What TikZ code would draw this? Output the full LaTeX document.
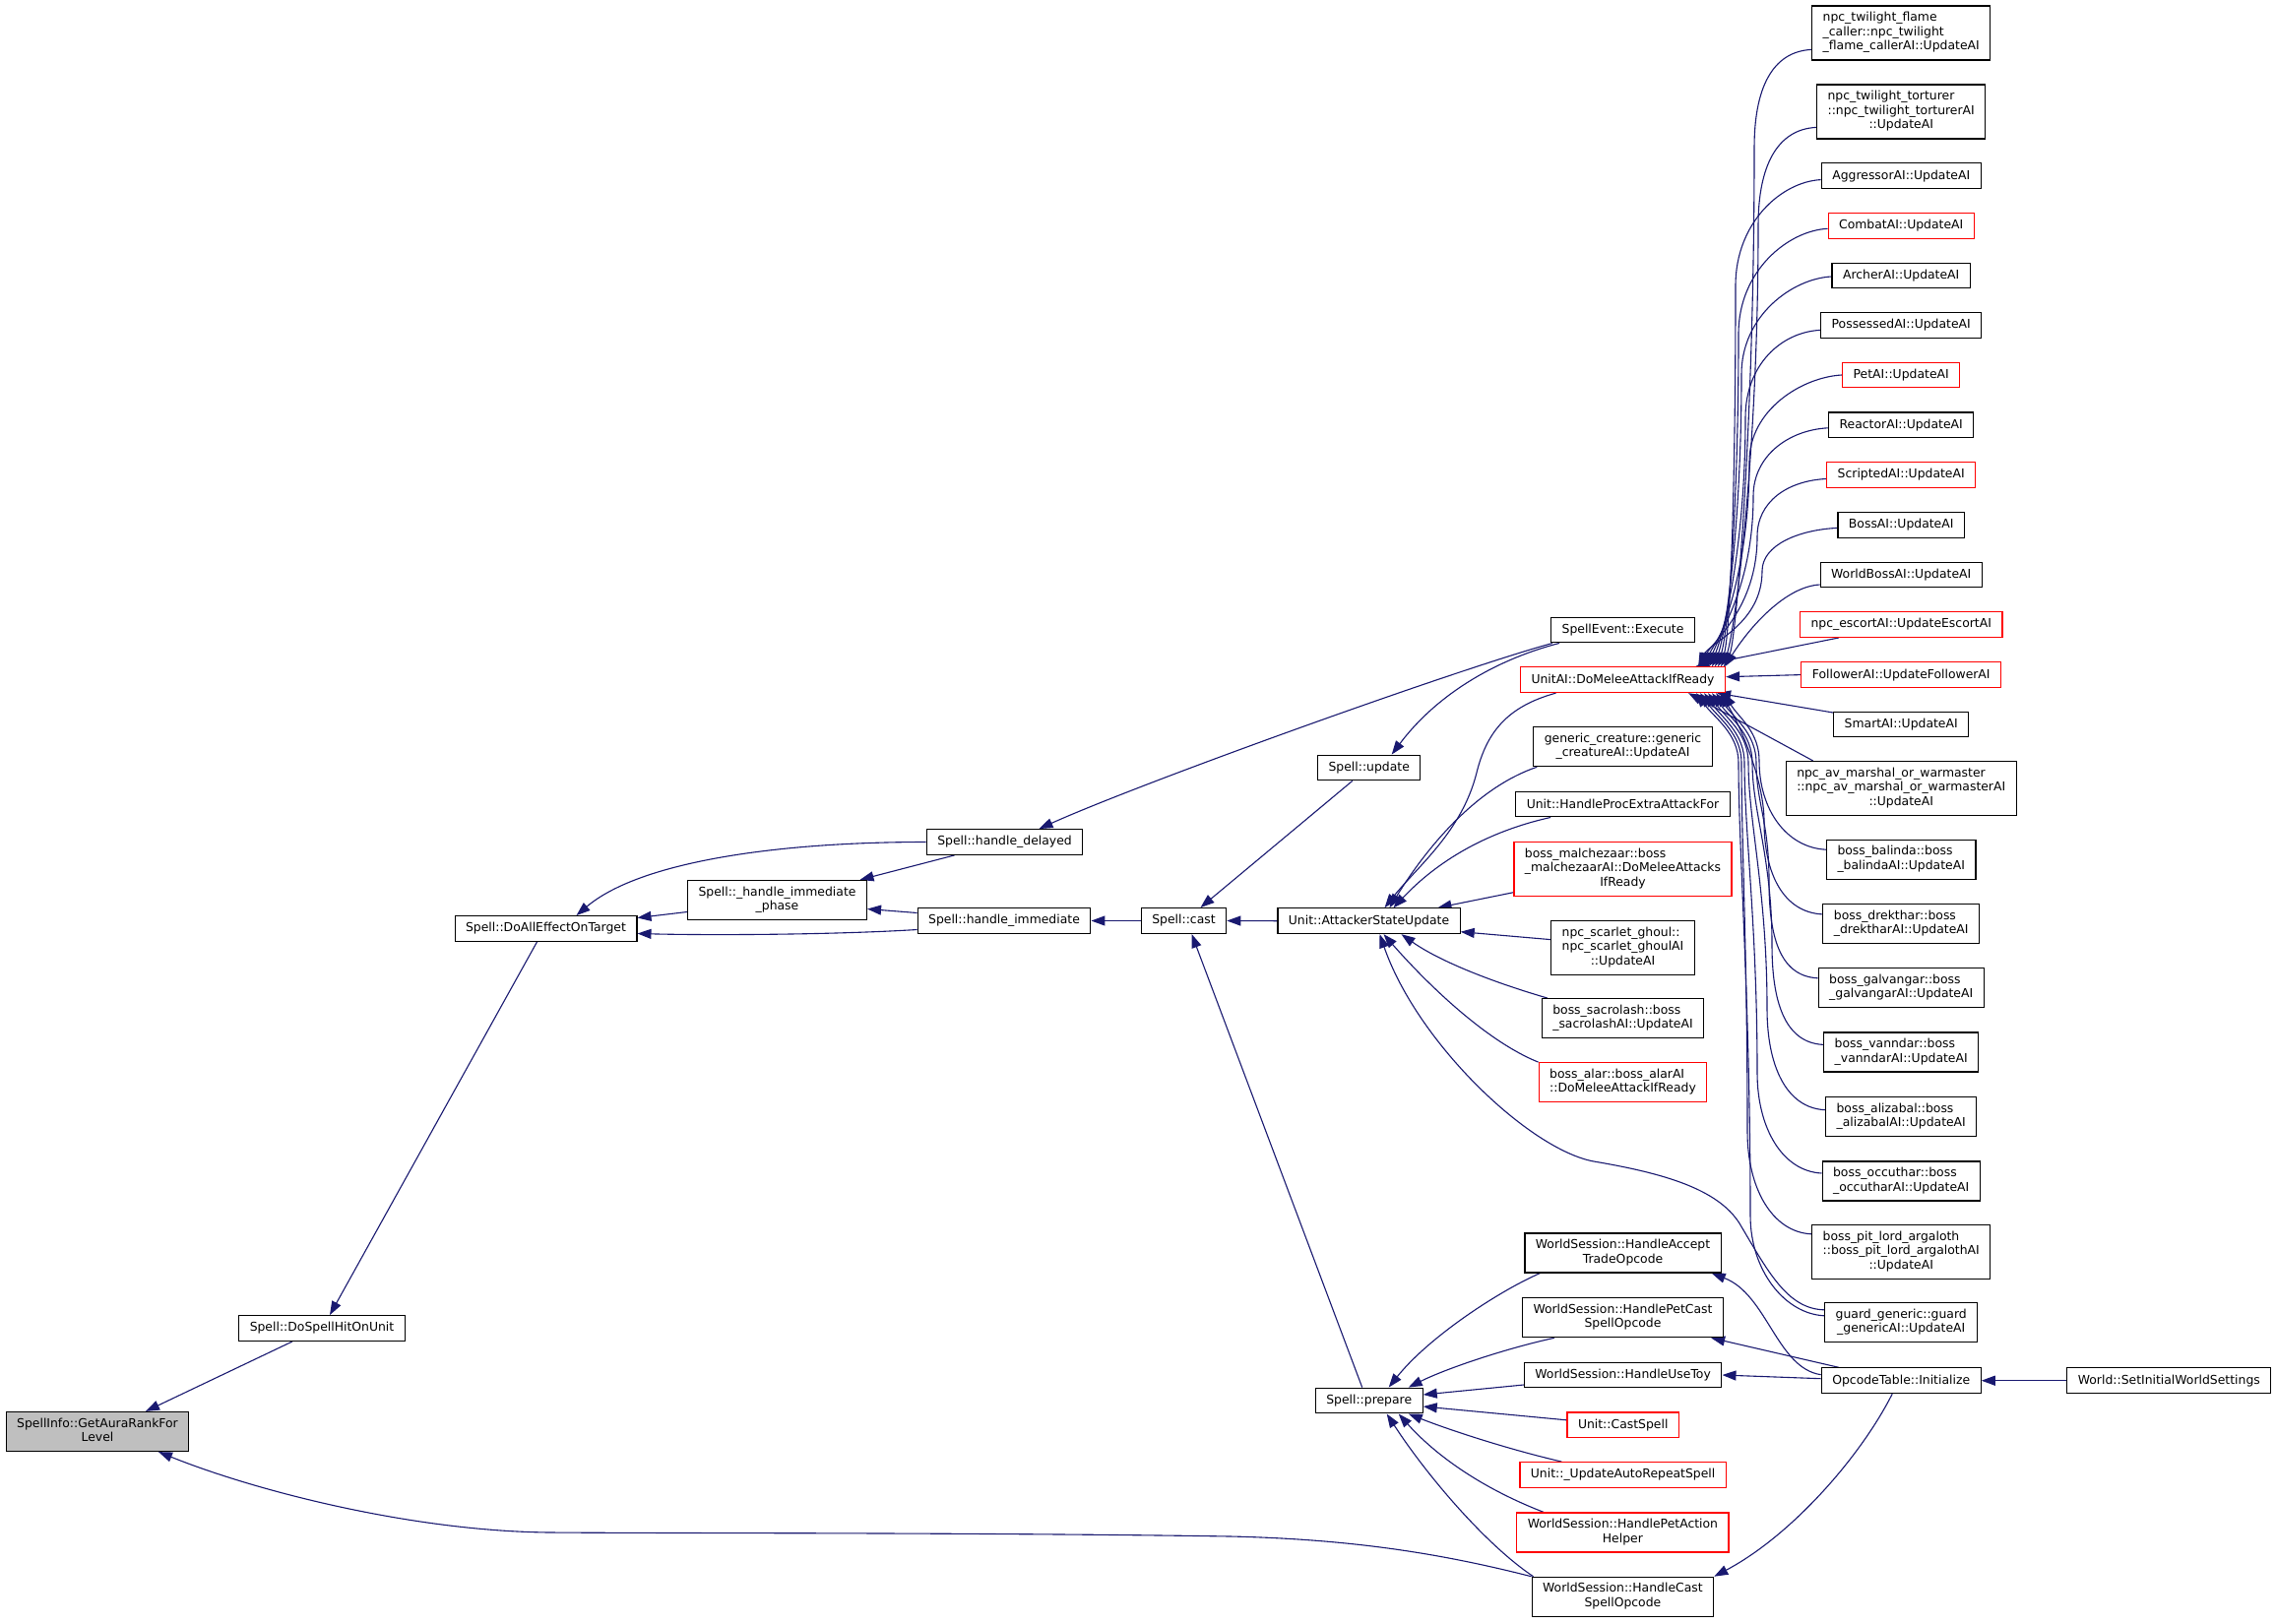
\documentclass[tikz,border=0pt]{standalone}
\usepackage{fontspec}
\setmainfont{DejaVu Sans}
\usetikzlibrary{arrows.meta,calc,backgrounds}
\definecolor{edgec}{HTML}{191970}
\definecolor{redc}{HTML}{FF0000}
\definecolor{grayf}{HTML}{BFBFBF}
\newcommand\dxlab[1]{\begin{tabular}{@{}l@{}}#1\end{tabular}}
\newcommand\dxlast[1]{\multicolumn{1}{@{}c@{}}{#1}}
\tikzset{
  nbox/.style={draw=black, line width=1.2pt, fill=white, font=\fontsize{12.4pt}{14.5pt}\selectfont, align=center, inner xsep=11pt, inner ysep=2pt, minimum height=25.7pt},
  rbox/.style={nbox, draw=redc},
  h2/.style={minimum height=40pt},
  h3/.style={minimum height=55pt},
  cedge/.style={draw=edgec, line width=1.1pt, -{Triangle[length=14pt,width=10pt]}},
}
\begin{document}
\begin{tikzpicture}[x=1pt,y=-1pt]
\useasboundingbox (0,0) rectangle (2312,1649);
% ---------- nodes ----------
\node[nbox,h2,fill=grayf] (gar) at (99,1454.5) {\dxlab{SpellInfo::GetAuraRankFor\\\dxlast{Level}}};
\node[nbox] (dsh) at (327,1349.5) {Spell::DoSpellHitOnUnit};
\node[nbox] (dae) at (554.5,943.5) {Spell::DoAllEffectOnTarget};
\node[nbox,h2] (hip) at (789.5,914.5) {\dxlab{Spell::\_handle\_immediate\\\dxlast{\_phase}}};
\node[nbox] (hd) at (1020.5,855.5) {Spell::handle\_delayed};
\node[nbox] (hi) at (1020,935.5) {Spell::handle\_immediate};
\node[nbox] (cast) at (1202.5,935.5) {Spell::cast};
\node[nbox] (upd) at (1390.7,780) {Spell::update};
\node[nbox] (asu) at (1390.5,935.7) {Unit::AttackerStateUpdate};
\node[nbox] (prep) at (1390.7,1423) {Spell::prepare};
\node[nbox] (se) at (1648.5,640) {SpellEvent::Execute};
\node[rbox] (uai) at (1648.5,690.7) {UnitAI::DoMeleeAttackIfReady};
\node[nbox,h2] (gc) at (1648.5,758.7) {\dxlab{generic\_creature::generic\\\dxlast{\_creatureAI::UpdateAI}}};
\node[nbox] (hpe) at (1648.5,817) {Unit::HandleProcExtraAttackFor};
\node[rbox,h3] (bm) at (1648.5,882.6) {\dxlab{boss\_malchezaar::boss\\\_malchezaarAI::DoMeleeAttacks\\\dxlast{IfReady}}};
\node[nbox,h3] (nsg) at (1648.5,962.6) {\dxlab{npc\_scarlet\_ghoul::\\npc\_scarlet\_ghoulAI\\\dxlast{::UpdateAI}}};
\node[nbox,h2] (bs) at (1648.5,1034.6) {\dxlab{boss\_sacrolash::boss\\\dxlast{\_sacrolashAI::UpdateAI}}};
\node[rbox,h2] (ba) at (1648.5,1099.7) {\dxlab{boss\_alar::boss\_alarAI\\\dxlast{::DoMeleeAttackIfReady}}};
\node[nbox,h2] (hat) at (1648.5,1273) {\dxlab{WorldSession::HandleAccept\\\dxlast{TradeOpcode}}};
\node[nbox,h2] (hpc) at (1648.5,1338.7) {\dxlab{WorldSession::HandlePetCast\\\dxlast{SpellOpcode}}};
\node[nbox] (hut) at (1648.6,1397) {WorldSession::HandleUseToy};
\node[rbox] (ucs) at (1648.7,1447.8) {Unit::CastSpell};
\node[rbox] (uar) at (1648.6,1498.5) {Unit::\_UpdateAutoRepeatSpell};
\node[rbox,h2] (hpa) at (1648.4,1557) {\dxlab{WorldSession::HandlePetAction\\\dxlast{Helper}}};
\node[nbox,h2] (hcso) at (1648.4,1622.3) {\dxlab{WorldSession::HandleCast\\\dxlast{SpellOpcode}}};
% right column
\node[nbox,h3] (flame) at (1931.2,33.4) {\dxlab{npc\_twilight\_flame\\\_caller::npc\_twilight\\\dxlast{\_flame\_callerAI::UpdateAI}}};
\node[nbox,h3] (tort) at (1931.2,113.4) {\dxlab{npc\_twilight\_torturer\\::npc\_twilight\_torturerAI\\\dxlast{::UpdateAI}}};
\node[nbox] (aggr) at (1931.2,178.6) {AggressorAI::UpdateAI};
\node[rbox] (comb) at (1931.2,229.3) {CombatAI::UpdateAI};
\node[nbox] (arch) at (1931.2,280) {ArcherAI::UpdateAI};
\node[nbox] (poss) at (1931.2,330.4) {PossessedAI::UpdateAI};
\node[rbox] (petai) at (1931.2,381) {PetAI::UpdateAI};
\node[nbox] (react) at (1931.2,431.8) {ReactorAI::UpdateAI};
\node[rbox] (scrip) at (1931.2,482.5) {ScriptedAI::UpdateAI};
\node[nbox] (bossai) at (1931.2,533.4) {BossAI::UpdateAI};
\node[nbox] (wboss) at (1931.2,584) {WorldBossAI::UpdateAI};
\node[rbox] (esc) at (1931.2,634.5) {npc\_escortAI::UpdateEscortAI};
\node[rbox] (foll) at (1931.2,685.6) {FollowerAI::UpdateFollowerAI};
\node[nbox] (smart) at (1931.2,736) {SmartAI::UpdateAI};
\node[nbox,h3] (nav) at (1931.2,801) {\dxlab{npc\_av\_marshal\_or\_warmaster\\::npc\_av\_marshal\_or\_warmasterAI\\\dxlast{::UpdateAI}}};
\node[nbox,h2] (bal) at (1931.2,873.2) {\dxlab{boss\_balinda::boss\\\dxlast{\_balindaAI::UpdateAI}}};
\node[nbox,h2] (drek) at (1931.2,938.4) {\dxlab{boss\_drekthar::boss\\\dxlast{\_drektharAI::UpdateAI}}};
\node[nbox,h2] (galv) at (1931.2,1003.8) {\dxlab{boss\_galvangar::boss\\\dxlast{\_galvangarAI::UpdateAI}}};
\node[nbox,h2] (vann) at (1931.2,1068.9) {\dxlab{boss\_vanndar::boss\\\dxlast{\_vanndarAI::UpdateAI}}};
\node[nbox,h2] (aliz) at (1931.2,1134.7) {\dxlab{boss\_alizabal::boss\\\dxlast{\_alizabalAI::UpdateAI}}};
\node[nbox,h2] (occu) at (1931.2,1200) {\dxlab{boss\_occuthar::boss\\\dxlast{\_occutharAI::UpdateAI}}};
\node[nbox,h3] (pit) at (1931.2,1271.8) {\dxlab{boss\_pit\_lord\_argaloth\\::boss\_pit\_lord\_argalothAI\\\dxlast{::UpdateAI}}};
\node[nbox,h2] (guard) at (1931.2,1343.8) {\dxlab{guard\_generic::guard\\\dxlast{\_genericAI::UpdateAI}}};
\node[nbox] (oti) at (1931.2,1402.7) {OpcodeTable::Initialize};
\node[nbox] (wsi) at (2203.3,1402.7) {World::SetInitialWorldSettings};
% ---------- edges ----------
\begin{scope}[on background layer]
\fill[white] (0,0) rectangle (2312,1649);
% left part
\draw[cedge] ($(dsh.south)+(-30,0)$) -- ($(gar.north)+(49,0)$);
\draw[cedge] (hcso.north west) .. controls (1470,1580) and (1380,1564) .. (1250,1561) .. controls (1000,1557) and (700,1558) .. (560,1557) .. controls (420,1556) and (260,1515) .. ($(gar.south)+(62,0)$);
\draw[cedge] ($(dae.south)+(-9,0)$) -- ($(dsh.north)+(8,0)$);
\draw[cedge] ($(hip.west)+(0,12)$) -- ($(dae.east)+(0,-11)$);
\draw[cedge] (hd.west) .. controls +(-150,0) and +(65,-55) .. ($(dae.north)+(31,0)$);
\draw[cedge] ($(hi.west)+(0,9)$) .. controls +(-80,5) and +(80,2) .. ($(dae.east)+(0,5)$);
\draw[cedge] ($(hd.south)+(-51,0)$) -- ($(hip.north)+(84,0)$);
\draw[cedge] ($(hi.west)+(0,-8)$) -- ($(hip.east)+(0,9)$);
\draw[cedge] (cast.west) -- (hi.east);
\draw[cedge] ($(upd.south)+(-17,0)$) -- ($(cast.north)+(17,0)$);
\draw[cedge] (asu.west) -- (cast.east);
\draw[cedge] ($(prep.north)+(-7,0)$) -- ($(cast.south)+(8,0)$);
\draw[cedge] ($(se.south west)+(2,0)$) .. controls (1480,680) and (1160,795) .. ($(hd.north)+(35,0)$);
\draw[cedge] ($(se.south west)+(9,0)$) .. controls (1520,670) and (1460,705) .. ($(upd.north)+(23,0)$);
% callers of AttackerStateUpdate
\draw[cedge] ($(uai.south)+(-68,0)$) .. controls (1530,718) and (1510,745) .. (1500,785) .. controls (1485,845) and (1440,880) .. ($(asu.north)+(16,0)$);
\draw[cedge] ($(gc.south west)+(4,0)$) .. controls (1500,800) and (1450,860) .. ($(asu.north)+(21,0)$);
\draw[cedge] ($(hpe.south west)+(36,0)$) .. controls (1510,845) and (1460,875) .. ($(asu.north)+(25,0)$);
\draw[cedge] ($(bm.south west)+(0,-4)$) -- ($(asu.north)+(70,0)$);
\draw[cedge] ($(nsg.west)+(0,-8)$) -- ($(asu.east)+(0,11)$);
\draw[cedge] ($(bs.north west)+(6,0)$) .. controls (1510,996) and (1460,975) .. ($(asu.south)+(33,0)$);
\draw[cedge] (ba.north west) .. controls (1510,1058) and (1450,1000) .. ($(asu.south)+(15,0)$);
\draw[cedge] ($(guard.west)+(0,-13)$) .. controls (1815,1330) and (1795,1290) .. (1767,1243) .. controls (1745,1208) and (1690,1192) .. (1619,1180) .. controls (1554,1168) and (1440,1060) .. ($(asu.south)+(11,0)$);
% callers of Spell::prepare
\draw[cedge] ($(hat.south west)+(16,0)$) .. controls (1520,1313) and (1450,1360) .. ($(prep.north)+(20,0)$);
\draw[cedge] ($(hpc.south west)+(33,0)$) .. controls (1530,1370) and (1470,1390) .. ($(prep.north east)+(-15,0)$);
\draw[cedge] ($(hut.west)+(0,10)$) -- ($(prep.east)+(0,-6)$);
\draw[cedge] ($(ucs.west)+(0,-5)$) -- ($(prep.east)+(0,6)$);
\draw[cedge] ($(uar.north west)+(43,0)$) .. controls (1530,1472) and (1470,1452) .. ($(prep.south east)+(-15,0)$);
\draw[cedge] ($(hpa.north west)+(28,0)$) .. controls (1500,1510) and (1455,1475) .. ($(prep.south)+(30,0)$);
\draw[cedge] ($(hcso.north west)+(2,0)$) .. controls (1510,1570) and (1450,1500) .. ($(prep.south)+(18,0)$);
% OpcodeTable
\draw[cedge] ($(oti.west)+(0,-6)$) .. controls (1805,1390) and (1795,1315) .. ($(hat.south east)+(-10,0)$);
\draw[cedge] ($(oti.north west)+(18,0)$) -- ($(hpc.south east)+(-13,0)$);
\draw[cedge] ($(oti.west)+(0,-2)$) -- (hut.east);
\draw[cedge] ($(oti.south)+(-9,0)$) .. controls (1890,1480) and (1820,1560) .. (hcso.north east);
\draw[cedge] (wsi.west) -- (oti.east);
% callers of UnitAI::DoMeleeAttackIfReady (top)
\draw[cedge] ($(flame.west)+(0,17)$) .. controls +(-40,2) and +(0,-60) .. (1782,150) .. controls +(0,290) and +(12,-25) .. ($(uai.north east)+(-2,0)$);
\draw[cedge] ($(tort.west)+(0,16)$) .. controls +(-40,2) and +(0,-60) .. (1786,229) .. controls +(0,247) and +(12,-25) .. ($(uai.north east)+(-5,0)$);
\draw[cedge] ($(aggr.west)+(0,4)$) .. controls +(-40,2) and +(0,-64) .. (1763,290) .. controls +(0,213) and +(12,-25) .. ($(uai.north east)+(-8,0)$);
\draw[cedge] ($(comb.west)+(0,3)$) .. controls +(-40,2) and +(0,-64) .. (1766,339) .. controls +(0,186) and +(12,-25) .. ($(uai.north east)+(-11,0)$);
\draw[cedge] ($(arch.west)+(0,1)$) .. controls +(-40,2) and +(0,-59) .. (1769,380) .. controls +(0,164) and +(12,-25) .. ($(uai.north east)+(-14,0)$);
\draw[cedge] ($(poss.west)+(0,5)$) .. controls +(-40,2) and +(0,-53) .. (1773,424) .. controls +(0,140) and +(12,-25) .. ($(uai.north east)+(-17,0)$);
\draw[cedge] (petai.west) .. controls +(-40,2) and +(0,-53) .. (1777,469) .. controls +(0,115) and +(12,-25) .. ($(uai.north east)+(-20,0)$);
\draw[cedge] ($(react.west)+(0,3)$) .. controls +(-40,2) and +(0,-41) .. (1781,504) .. controls +(0,96) and +(12,-25) .. ($(uai.north east)+(-23,0)$);
\draw[cedge] ($(scrip.west)+(0,4)$) .. controls +(-40,2) and +(0,-35) .. (1785,545) .. controls +(0,73) and +(12,-25) .. ($(uai.north east)+(-26,0)$);
\draw[cedge] ($(bossai.west)+(0,3)$) .. controls +(-40,2) and +(0,-26) .. (1790,580) .. controls +(0,54) and +(12,-25) .. ($(uai.north east)+(-28,0)$);
\draw[cedge] ($(wboss.west)+(0,10)$) .. controls +(-35,2) and +(25,-40) .. ($(uai.north east)+(-1,0)$);
\draw[cedge] ($(esc.south west)+(40,0)$) -- ($(uai.north east)+(-31,0)$);
\draw[cedge] (foll.west) -- ($(uai.east)+(0,-3)$);
\draw[cedge] ($(smart.west)+(0,-12)$) -- ($(uai.south east)+(-9,0)$);
\draw[cedge] ($(nav.north west)+(28,0)$) -- ($(uai.south east)+(-38,0)$);
% callers of UnitAI::DoMeleeAttackIfReady (bottom)
\draw[cedge] ($(bal.west)+(0,-10)$) .. controls +(-40,-2) and +(0,50) .. (1787,773) .. controls +(0,-30) and +(15,25) .. ($(uai.south east)+(-2,0)$);
\draw[cedge] ($(drek.west)+(0,-9.5)$) .. controls +(-40,-2) and +(0,52) .. (1792,835) .. controls +(0,-45) and +(18,28) .. ($(uai.south east)+(-6,0)$);
\draw[cedge] ($(galv.west)+(0,-10)$) .. controls +(-40,-2) and +(0,54) .. (1797,895) .. controls +(0,-60) and +(0,40) .. (1784,775) .. controls +(0,-30) and +(18,25) .. ($(uai.south east)+(-10,0)$);
\draw[cedge] ($(vann.west)+(0,-7.5)$) .. controls +(-40,-2) and +(0,56) .. (1800,960) .. controls +(0,-90) and +(0,50) .. (1780,775) .. controls +(0,-30) and +(18,25) .. ($(uai.south east)+(-14,0)$);
\draw[cedge] ($(aliz.west)+(0,-7)$) .. controls +(-40,-2) and +(0,57) .. (1795,1025) .. controls +(0,-120) and +(0,60) .. (1776,775) .. controls +(0,-30) and +(18,25) .. ($(uai.south east)+(-18,0)$);
\draw[cedge] ($(occu.west)+(0,-8)$) .. controls +(-40,-2) and +(0,56) .. (1785,1090) .. controls +(0,-150) and +(0,70) .. (1772,775) .. controls +(0,-30) and +(18,25) .. ($(uai.south east)+(-22,0)$);
\draw[cedge] ($(pit.west)+(0,-18)$) .. controls +(-40,-2) and +(0,57) .. (1775,1150) .. controls +(0,-180) and +(0,80) .. (1769,775) .. controls +(0,-30) and +(18,25) .. ($(uai.south east)+(-26,0)$);
\draw[cedge] ($(guard.west)+(0,-7)$) .. controls +(-40,-2) and +(0,56) .. (1778,1235) .. controls +(0,-220) and +(0,90) .. (1766,775) .. controls +(0,-30) and +(18,25) .. ($(uai.south east)+(-30,0)$);
\end{scope}
\end{tikzpicture}
\end{document}
